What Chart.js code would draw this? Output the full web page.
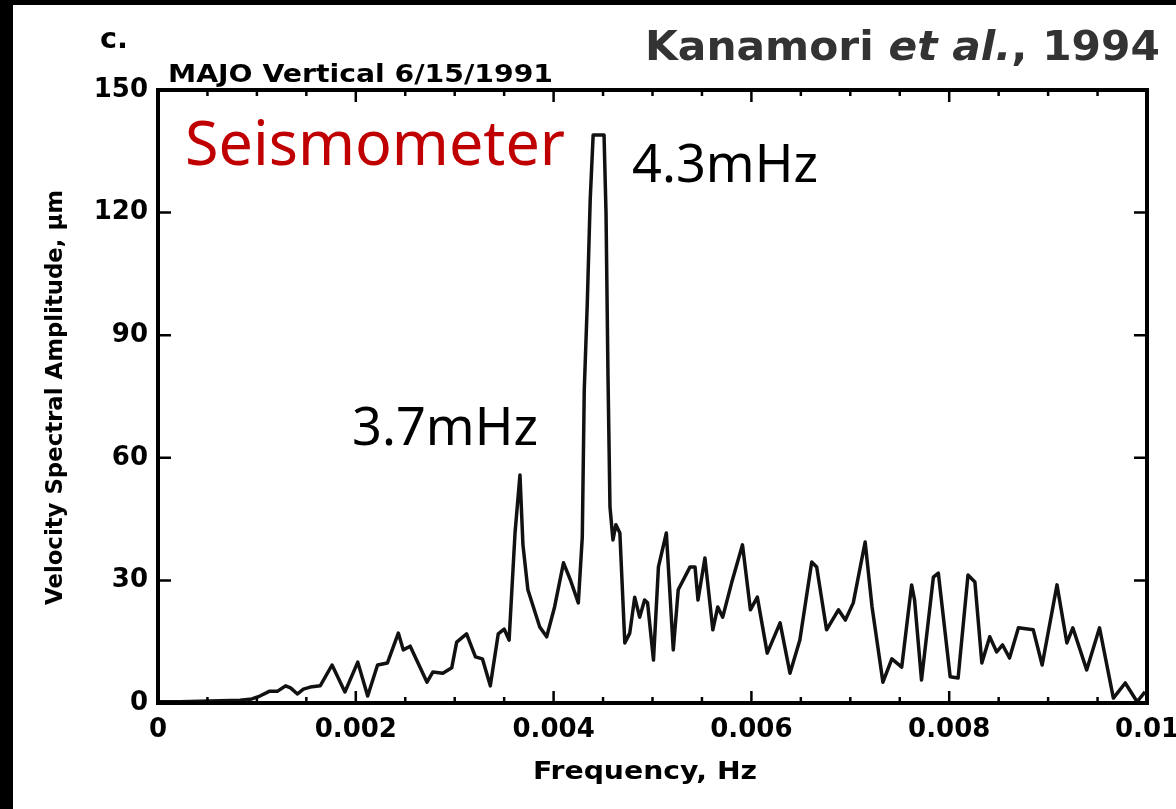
<!DOCTYPE html>
<html>
<head>
<meta charset="utf-8">
<title>MAJO Vertical 6/15/1991</title>
<script src="https://cdn.jsdelivr.net/npm/chart.js@4.4.1/dist/chart.umd.min.js"></script>
<style>
  html, body { margin: 0; padding: 0; background: #fff; overflow: hidden; }
  #wrap { width: 1176px; height: 809px; position: relative; }
  canvas { display: block; }
</style>
</head>
<body>
<div id="wrap"><canvas id="spectrum" width="1176" height="809"></canvas></div>
<script>
// Velocity spectral amplitude of the vertical component at MAJO, 15 June 1991.
const frequencyHz = [
  0.00000, 0.00022, 0.00053, 0.00083, 0.00095, 0.00103, 0.00113, 0.00121, 0.00129, 0.00134,
  0.00141, 0.00147, 0.00154, 0.00164, 0.00176, 0.00189, 0.00202, 0.00212, 0.00222, 0.00232,
  0.00243, 0.00248, 0.00255, 0.00272, 0.00278, 0.00288, 0.00297, 0.00302, 0.00312, 0.00321,
  0.00328, 0.00336, 0.00344, 0.00350, 0.00355, 0.00361, 0.00366, 0.00369, 0.00374, 0.00386,
  0.00393, 0.00401, 0.00410, 0.00417, 0.00425, 0.00429, 0.00431, 0.00434, 0.00437, 0.00440,
  0.00451, 0.00453, 0.00455, 0.00457, 0.00460, 0.00463, 0.00467, 0.00472, 0.00477, 0.00482,
  0.00487, 0.00492, 0.00495, 0.00501, 0.00506, 0.00514, 0.00521, 0.00526, 0.00538, 0.00543,
  0.00546, 0.00553, 0.00561, 0.00566, 0.00571, 0.00580, 0.00591, 0.00599, 0.00606, 0.00616,
  0.00629, 0.00639, 0.00649, 0.00661, 0.00666, 0.00676, 0.00688, 0.00695, 0.00703, 0.00715,
  0.00722, 0.00733, 0.00742, 0.00752, 0.00762, 0.00765, 0.00772, 0.00784, 0.00789, 0.00801,
  0.00809, 0.00819, 0.00826, 0.00833, 0.00841, 0.00848, 0.00854, 0.00861, 0.00870, 0.00885,
  0.00894, 0.00909, 0.00919, 0.00925, 0.00939, 0.00952, 0.00966, 0.00978, 0.00990, 0.00998
];
const amplitudeUm = [
  0.3, 0.3, 0.5, 0.7, 1.0, 1.7, 2.9, 2.9, 4.2, 3.7,
  2.2, 3.4, 3.9, 4.2, 9.3, 2.7, 10.0, 1.7, 9.3, 9.8,
  17.1, 13.0, 13.9, 5.1, 7.6, 7.3, 8.6, 14.9, 16.9, 11.3,
  10.8, 4.2, 16.9, 18.1, 15.4, 41.6, 55.8, 38.7, 27.7, 18.6,
  16.2, 23.5, 34.3, 30.1, 24.5, 40.6, 76.6, 97.4, 123.1, 139.0,
  139.0, 120.0, 80.0, 48.0, 39.9, 43.6, 41.6, 14.7, 17.1, 25.9,
  21.0, 25.2, 24.5, 10.5, 33.3, 41.6, 13.0, 27.7, 33.3, 33.3,
  25.2, 35.5, 17.9, 23.5, 21.0, 29.4, 38.7, 22.8, 25.9, 12.2,
  19.6, 7.3, 15.4, 34.5, 33.3, 17.9, 22.8, 20.3, 24.5, 39.4,
  23.5, 5.1, 10.8, 8.8, 28.9, 25.2, 5.6, 30.8, 31.8, 6.4,
  6.1, 31.3, 29.6, 9.8, 16.2, 12.5, 14.2, 11.0, 18.4, 17.9,
  9.3, 28.9, 14.7, 18.4, 8.1, 18.4, 1.2, 4.9, 0.3, 2.7
];

// Axis ticks
const xTickValues = [0, 0.002, 0.004, 0.006, 0.008, 0.01];
const xMinorStep = 0.0005;
const yTickValues = [0, 30, 60, 90, 120, 150];

// Text on the figure
const panelLetter = 'c.';
const stationTitle = 'MAJO Vertical 6/15/1991';
const citation = ['Kanamori ', 'et al.', ', 1994'];
const instrumentLabel = 'Seismometer';
const peakLabels = [
  { text: '4.3mHz', x: 632, baseline: 182, width: 186 },
  { text: '3.7mHz', x: 352, baseline: 445, width: 186 }
];
const xTitle = 'Frequency, Hz';
const yTitle = 'Velocity Spectral Amplitude, \u00b5m';

const AXIS_FONT = '"DejaVu Sans", "Liberation Sans", Arial, sans-serif';
const LABEL_FONT = '"Noto Sans", "Open Sans", sans-serif';

// Draws text stretched horizontally to a given width.
function fitText(ctx, text, x, baseline, width, font, color) {
  ctx.save();
  ctx.font = font;
  const w = ctx.measureText(text).width;
  ctx.translate(x, baseline);
  ctx.scale(width / w, 1);
  ctx.fillStyle = color;
  ctx.textAlign = 'left';
  ctx.textBaseline = 'alphabetic';
  ctx.fillText(text, 0, 0);
  ctx.restore();
}

const framePlugin = {
  id: 'frame',
  beforeDraw(chart) {
    const { ctx, width, height } = chart;
    ctx.save();
    ctx.fillStyle = '#fff';
    ctx.fillRect(0, 0, width, height);
    ctx.fillStyle = '#000';
    ctx.fillRect(0, 0, 13, height);
    ctx.fillRect(0, 0, width, 5);
    ctx.restore();
  },
  afterDatasetsDraw(chart) {
    const { ctx, chartArea: a, scales: { x, y } } = chart;
    ctx.save();
    ctx.strokeStyle = '#000';
    ctx.lineCap = 'butt';

    // inward tick marks on all four sides
    ctx.lineWidth = 2.5;
    const nMinor = Math.round((x.max - x.min) / xMinorStep);
    for (let k = 1; k < nMinor; k++) {
      const px = x.getPixelForValue(x.min + k * xMinorStep);
      const len = (k % 4 === 0) ? 12 : 6;
      ctx.beginPath();
      ctx.moveTo(px, a.bottom); ctx.lineTo(px, a.bottom - len);
      ctx.moveTo(px, a.top); ctx.lineTo(px, a.top + len);
      ctx.stroke();
    }
    yTickValues.forEach(v => {
      if (v <= y.min || v >= y.max) return;
      const py = y.getPixelForValue(v);
      ctx.beginPath();
      ctx.moveTo(a.left, py); ctx.lineTo(a.left + 13, py);
      ctx.moveTo(a.right, py); ctx.lineTo(a.right - 13, py);
      ctx.stroke();
    });

    // box around the plot
    ctx.lineWidth = 4;
    ctx.strokeRect(a.left, a.top, a.right - a.left, a.bottom - a.top);
    ctx.restore();
  },
  afterDraw(chart) {
    const { ctx } = chart;
    ctx.save();

    fitText(ctx, panelLetter, 100, 48, 28, 'bold 28px ' + AXIS_FONT, '#000');
    fitText(ctx, stationTitle, 168, 82, 385, 'bold 25px ' + AXIS_FONT, '#000');

    // citation with italic "et al."
    const fonts = ['bold 40px ' + AXIS_FONT, 'italic bold 40px ' + AXIS_FONT, 'bold 40px ' + AXIS_FONT];
    let total = 0;
    const widths = citation.map((s, i) => { ctx.font = fonts[i]; const w = ctx.measureText(s).width; total += w; return w; });
    const sx = 515 / total;
    ctx.save();
    ctx.translate(645, 60);
    ctx.scale(sx, 1);
    ctx.fillStyle = '#333';
    ctx.textBaseline = 'alphabetic';
    let cx = 0;
    citation.forEach((s, i) => { ctx.font = fonts[i]; ctx.fillText(s, cx, 0); cx += widths[i]; });
    ctx.restore();

    fitText(ctx, instrumentLabel, 185, 165, 380, '62px ' + LABEL_FONT, '#c00000');
    peakLabels.forEach(p => fitText(ctx, p.text, p.x, p.baseline, p.width, '52px ' + LABEL_FONT, '#000'));

    // axis titles
    fitText(ctx, xTitle, 533, 779, 224, 'bold 25px ' + AXIS_FONT, '#000');
    ctx.save();
    ctx.translate(62, 605);
    ctx.rotate(-Math.PI / 2);
    fitText(ctx, yTitle, 0, 0, 415, 'bold 23px ' + AXIS_FONT, '#000');
    ctx.restore();

    ctx.restore();
  }
};

function build() {
  const points = frequencyHz.map((f, i) => ({ x: f, y: amplitudeUm[i] }));
  new Chart(document.getElementById('spectrum'), {
    type: 'line',
    data: {
      datasets: [{
        label: 'Velocity spectral amplitude',
        data: points,
        borderColor: '#111',
        borderWidth: 3.5,
        borderJoinStyle: 'round',
        pointRadius: 0,
        fill: false,
        tension: 0
      }]
    },
    options: {
      responsive: false,
      animation: false,
      events: [],
      layout: { padding: { left: 0, top: 90, right: 29, bottom: 0 } },
      plugins: { legend: { display: false }, tooltip: { enabled: false }, title: { display: false } },
      scales: {
        x: {
          type: 'linear',
          min: 0,
          max: 0.01,
          afterBuildTicks: s => { s.ticks = xTickValues.map(v => ({ value: v })); },
          afterFit: s => { s.height = 106; s.paddingLeft = 0; s.paddingRight = 0; },
          grid: { display: false, drawTicks: false },
          border: { display: false },
          ticks: {
            autoSkip: false,
            maxRotation: 0,
            padding: 12,
            color: '#000',
            font: { family: AXIS_FONT, weight: 'bold', size: 26 },
            callback: v => String(Number(Number(v).toFixed(3)))
          }
        },
        y: {
          type: 'linear',
          min: 0,
          max: 150,
          afterBuildTicks: s => { s.ticks = yTickValues.map(v => ({ value: v })); },
          afterFit: s => { s.width = 158; s.paddingTop = 0; s.paddingBottom = 0; },
          grid: { display: false, drawTicks: false },
          border: { display: false },
          ticks: {
            padding: 10,
            color: '#000',
            font: { family: AXIS_FONT, weight: 'bold', size: 26 }
          }
        }
      }
    },
    plugins: [framePlugin]
  });
}

Promise.all([
  document.fonts.load('bold 26px "DejaVu Sans"'),
  document.fonts.load('italic bold 40px "DejaVu Sans"'),
  document.fonts.load('62px "Noto Sans"')
]).catch(() => {}).then(build);
</script>
</body>
</html>
